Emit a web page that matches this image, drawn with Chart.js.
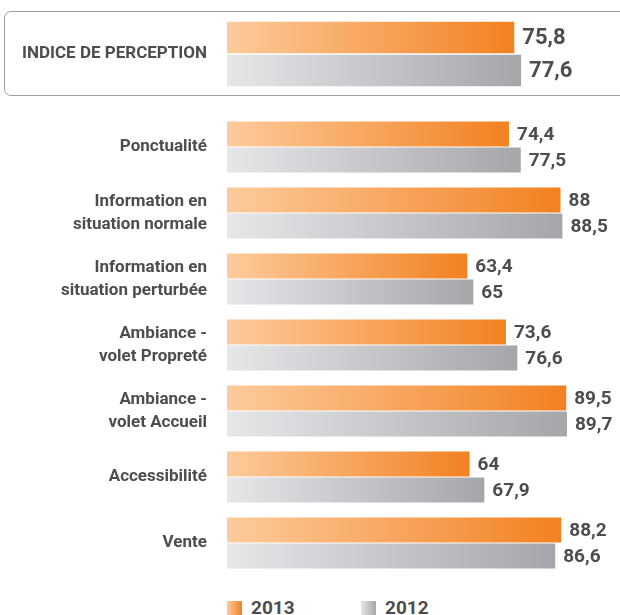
<!DOCTYPE html>
<html>
<head>
<meta charset="utf-8">
<script src="https://cdn.jsdelivr.net/npm/chart.js@4"></script>
<style>
  body { margin: 0; width: 620px; height: 615px; overflow: hidden; background: #fff; position: relative; font-family: Roboto, sans-serif; }
  #box { position: absolute; left: 4px; top: 11px; width: 660px; height: 83px; border: 1px solid #9c9c9c; border-radius: 7px; }
  canvas { position: absolute; left: 0; }
  #top { top: 0; }
  #main { top: 100px; }
  .legend { position: absolute; top: 597px; font-weight: bold; font-size: 19px; line-height: 22px; color: #4d4d4d; white-space: nowrap; }
  .legend span { display: inline-block; width: 15px; height: 16px; vertical-align: -3px; margin-right: 9px; }
</style>
</head>
<body>
<div id="box"></div>
<canvas id="top" width="620" height="100"></canvas>
<canvas id="main" width="620" height="490"></canvas>
<div class="legend" style="left:227px"><span style="background:linear-gradient(to right,#fdcb9c,#f28121)"></span>2013</div>
<div class="legend" style="left:361px"><span style="background:linear-gradient(to right,#e6e7e9,#a5a6aa)"></span>2012</div>
<script>
var indexLabel = ['INDICE DE PERCEPTION'];
var index2013 = [75.8];
var index2012 = [77.6];

var categories = [
    'Ponctualité',
    ['Information en', 'situation normale'],
    ['Information en', 'situation perturbée'],
    ['Ambiance -', 'volet Propreté'],
    ['Ambiance -', 'volet Accueil'],
    'Accessibilité',
    'Vente'
];
var values2013 = [74.4, 88, 63.4, 73.6, 89.5, 64, 88.2];
var values2012 = [77.5, 88.5, 65, 76.6, 89.7, 67.9, 86.6];

var orange = ['#fdcb9c', '#f28121'];
var grey = ['#e6e7e9', '#a5a6aa'];
var fontFamily = 'Roboto, sans-serif';

function barGradient(colors) {
    return function (ctx) {
        var chart = ctx.chart;
        if (!chart.chartArea || ctx.raw === undefined) return colors[1];
        var x = chart.scales.x;
        var g = chart.ctx.createLinearGradient(x.getPixelForValue(0), 0, x.getPixelForValue(ctx.raw), 0);
        g.addColorStop(0, colors[0]);
        g.addColorStop(1, colors[1]);
        return g;
    };
}

// valeurs à droite des barres, virgule décimale
var valueLabels = {
    id: 'valueLabels',
    afterDatasetsDraw: function (chart, args, opts) {
        var c = chart.ctx;
        c.save();
        c.fillStyle = '#4d4d4d';
        c.font = 'bold ' + opts.size + 'px ' + fontFamily;
        c.textBaseline = 'middle';
        chart.data.datasets.forEach(function (ds, i) {
            chart.getDatasetMeta(i).data.forEach(function (el, j) {
                var txt = String(ds.data[j]).replace('.', ',');
                c.fillText(txt, el.x + 8, el.y + 1);
            });
        });
        c.restore();
    }
};

function makeChart(id, labels, d2013, d2012, opt) {
    return new Chart(document.getElementById(id), {
        type: 'bar',
        data: {
            labels: labels,
            datasets: [
                { label: '2013', data: d2013, backgroundColor: barGradient(orange) },
                { label: '2012', data: d2012, backgroundColor: barGradient(grey) }
            ]
        },
        options: {
            indexAxis: 'y',
            responsive: false,
            animation: false,
            devicePixelRatio: 1,
            categoryPercentage: opt.catPct,
            barPercentage: opt.barPct,
            layout: { padding: { top: opt.padTop, bottom: opt.padBottom, right: 14, left: 0 } },
            plugins: {
                legend: { display: false },
                tooltip: { enabled: false },
                valueLabels: { size: opt.valueSize }
            },
            scales: {
                x: { display: false, min: 0, max: 100 },
                y: {
                    afterFit: function (scale) {
                        scale.width = 227;
                        scale.paddingTop = 0;
                        scale.paddingBottom = 0;
                    },
                    grid: { display: false, drawTicks: false },
                    border: { display: false },
                    ticks: {
                        padding: 20,
                        color: '#4d4d4d',
                        font: { family: fontFamily, weight: 'bold', size: 17, lineHeight: 1.35 }
                    }
                }
            }
        },
        plugins: [valueLabels]
    });
}

makeChart('top', indexLabel, index2013, index2012,
    { catPct: 1, barPct: 0.95, padTop: 21, padBottom: 13, valueSize: 22 });
makeChart('main', categories, values2013, values2012,
    { catPct: 0.788, barPct: 0.96, padTop: 14, padBottom: 14, valueSize: 19 });
</script>
</body>
</html>
